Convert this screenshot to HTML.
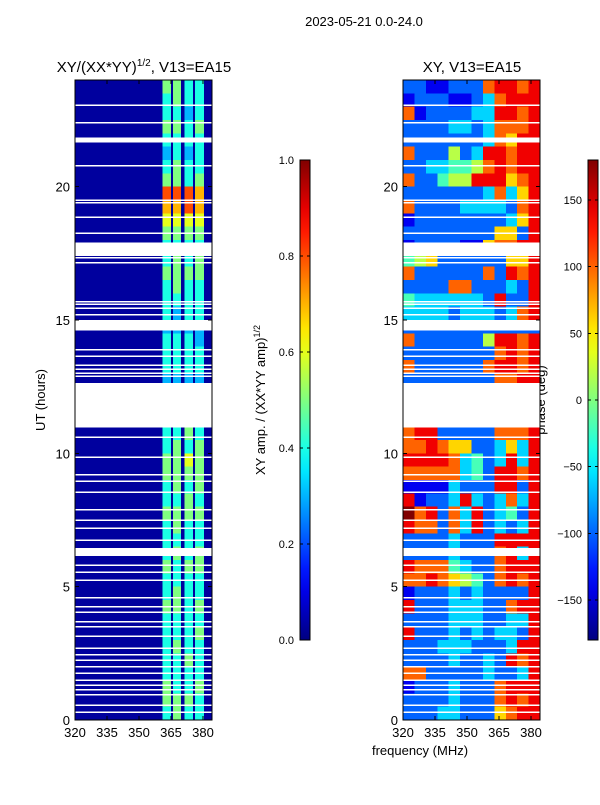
<!DOCTYPE html>
<html><head><meta charset="utf-8"><style>
body{margin:0;background:#fff;font-family:"Liberation Sans",sans-serif}
svg text{font-family:"Liberation Sans",sans-serif;fill:#000}
</style></head><body>
<svg id="fig" width="600" height="800" xmlns="http://www.w3.org/2000/svg" shape-rendering="crispEdges">
<text x="364" y="26" font-size="13" text-anchor="middle">2023-05-21 0.0-24.0</text>
<text x="144" y="72" font-size="15" text-anchor="middle">XY/(XX*YY)<tspan font-size="10" dy="-6">1/2</tspan><tspan dy="6">, V13=EA15</tspan></text>
<text x="472" y="72" font-size="15" text-anchor="middle">XY, V13=EA15</text>
<text transform="translate(45,400) rotate(-90)" font-size="13" text-anchor="middle">UT (hours)</text>
<text x="420" y="755" font-size="13" text-anchor="middle">frequency (MHz)</text>
<text transform="translate(265,400) rotate(-90)" font-size="13" text-anchor="middle">XY amp. / (XX*YY amp)<tspan font-size="9" dy="-5">1/2</tspan></text>
<text transform="translate(545,400) rotate(-90)" font-size="13" text-anchor="middle">phase (deg)</text>
<g id="layer"></g>
</svg>
<script>
const timeRange=[0,24];
const freqRange=[320,384.2];
const xTicks=[320,335,350,365,380];
const yTicks=[0,5,10,15,20];
const ampBackground=0.03;
const stripeStart=[361,366,371.2,376.3];
const stripeEnd=[365,369.7,375.3,380.5];
const ampRows=["5544","4544","4434","5545","4444","3434","4544","5545",
"8887","7787","6666","5555","4444",
"4545","5555","4544","4444","4344","3333","4443",
"4444","4444","3333","0000","0000","0000",
"4454","4545","5565","5555","4545","4454","5555","4544","4444","4545","5455","4444","4544","5545","4444","4445","4544","4454","4444","5445","5554","4544"];
const phaseRows=["221122278878","122211237888","712222338878","222233237778","222222237688","722252388788","223344578788","722455888678",
"222222237368","722223333278","122222222368","222222226628","122221167788","456222222668","722222272878","222277222328",
"433333328228","333323332378","222222222222","722222258878","222222227878","722222278878","222222227788","222222222222",
"222222222222","222222222222","788222227778","778766223638","888873423838","777773428878","111132228828","812238323738",
"978273823428","877273823238","222232228888","222232227838","877743227888","778765427878","122232322228","822233322788",
"222233322338","822232323328","222333222388","222232232878","772222232238","122232227888","222232227878","222332226788"];
const bigGaps=[[10.97,12.64],[14.6,15.0],[17.4,17.9],[21.65,21.85],[6.15,6.45]];
const thinGaps=[23.06,22.39,20.78,19.5,19.39,18.86,18.26,17.51,17.33,17.14,15.68,15.6,15.45,15.19,13.88,13.65,13.31,13.16,13.01,12.9,10.61,9.86,9.19,8.96,8.55,7.88,7.5,7.2,6.75,5.81,5.55,5.25,4.58,4.24,4.05,3.68,3.49,3.15,2.7,2.44,2.25,1.99,1.76,1.5,1.31,1.13,0.94,0.56,0.3];
const ampTicks=[0,0.2,0.4,0.6,0.8,1.0];
const phaseTicks=[-150,-100,-50,0,50,100,150];

const NS="http://www.w3.org/2000/svg";
const layer=document.getElementById('layer');
const panels=[{x0:75,name:'amp'},{x0:403,name:'phase'}];
const W=137,T=80,B=720;
function yS(h){return B-(h-timeRange[0])/(timeRange[1]-timeRange[0])*(B-T);}
function xS(p,f){return p.x0+(f-freqRange[0])/(freqRange[1]-freqRange[0])*W;}
function cl(v){return Math.max(0,Math.min(1,v));}
function jet(v){const r=cl(1.5-Math.abs(4*v-3)),g=cl(1.5-Math.abs(4*v-2)),b=cl(1.5-Math.abs(4*v-1));return `rgb(${Math.round(r*255)},${Math.round(g*255)},${Math.round(b*255)})`;}
function el(t,a,parent){const e=document.createElementNS(NS,t);for(const k in a)e.setAttribute(k,a[k]);(parent||layer).appendChild(e);return e;}
const n=ampRows.length, dh=(timeRange[1]-timeRange[0])/n;
const pa=panels[0];
let bg=el('rect',{x:pa.x0,y:T,width:W,height:B-T,fill:jet(ampBackground)});


ampRows.forEach((row,i)=>{
  const h1=timeRange[1]-i*dh,h0=h1-dh;
  for(let s=0;s<row.length;s++){
    const v=+row[s]/10; if(v===0)continue;
    const r=el('rect',{x:xS(pa,stripeStart[s]),y:yS(h1),width:xS(pa,stripeEnd[s])-xS(pa,stripeStart[s]),height:yS(h0)-yS(h1),fill:jet(v)});
    
    
  }
});
const pp=panels[1];
const nc=phaseRows[0].length, df=(freqRange[1]-freqRange[0])/nc;
phaseRows.forEach((row,i)=>{
  const h1=timeRange[1]-i*dh,h0=h1-dh;
  for(let c=0;c<nc;c++){
    const ph=-180+(+row[c])*40;
    const f0=freqRange[0]+c*df;
    const r=el('rect',{x:xS(pp,f0),y:yS(h1),width:xS(pp,f0+df)-xS(pp,f0)+0.5,height:yS(h0)-yS(h1)+0.5,fill:jet((ph+180)/360)});
    
    
  }
});
panels.forEach(p=>{
  bigGaps.forEach(g=>{const r=el('rect',{x:p.x0,y:yS(g[1]),width:W,height:yS(g[0])-yS(g[1]),fill:'#fff'});
    });
  thinGaps.forEach(g=>{const r=el('rect',{x:p.x0,y:yS(g)-0.75,width:W,height:1.5,fill:'#fff'});
    });
  const fr=el('rect',{x:p.x0,y:T,width:W,height:B-T,fill:'none',stroke:'#000','stroke-width':1});
  
  
  xTicks.forEach(t=>{const x=xS(p,t);
    el('line',{x1:x,x2:x,y1:B,y2:B-4,stroke:'#000'});el('line',{x1:x,x2:x,y1:T,y2:T+4,stroke:'#000'});
    const tx=el('text',{x:x,y:B+17,'font-size':13,'text-anchor':'middle'});tx.textContent=t;
    });
  yTicks.forEach(t=>{const y=yS(t);
    el('line',{x1:p.x0,x2:p.x0+4,y1:y,y2:y,stroke:'#000'});el('line',{x1:p.x0+W,x2:p.x0+W-4,y1:y,y2:y,stroke:'#000'});
    const tx=el('text',{x:p.x0-5,y:y+5,'font-size':13,'text-anchor':'end'});tx.textContent=t;
    });
});
const defs=el('defs',{});
const gr=el('linearGradient',{id:'jetg',x1:0,y1:1,x2:0,y2:0},defs);
for(let k=0;k<=20;k++)el('stop',{offset:k/20,'stop-color':jet(k/20)},gr);
function cbar(x,ticks,lo,hi,name,fmt){
  const r=el('rect',{x:x,y:160,width:10,height:480,fill:'url(#jetg)',stroke:'#000'});
  
  ticks.forEach(t=>{const y=640-(t-lo)/(hi-lo)*480;
    el('line',{x1:x,x2:x+3,y1:y,y2:y,stroke:'#000'});el('line',{x1:x+10,x2:x+7,y1:y,y2:y,stroke:'#000'});
    const tx=el('text',{x:x-6,y:y+4,'font-size':11,'text-anchor':'end'});tx.textContent=fmt(t);
    });
}
cbar(300,ampTicks,0,1,'amp-colorbar',t=>t.toFixed(1));
cbar(588,phaseTicks,-180,180,'phase-colorbar',t=>t<0?'\u2212'+(-t):''+t);
</script>
</body></html>
